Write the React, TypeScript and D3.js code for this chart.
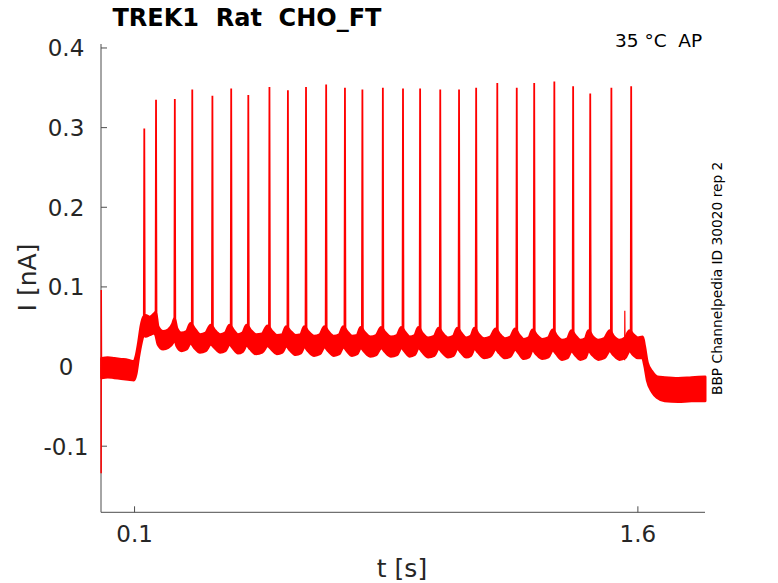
import React from 'react';
import * as d3 from 'd3';

// spike times (s) and peak currents (nA)
const spikeTimes = [
  0.129, 0.164, 0.22, 0.272, 0.332, 0.388, 0.439, 0.502, 0.557, 0.611, 0.671, 0.727, 0.779, 0.84,
  0.9, 0.951, 1.011, 1.067, 1.118, 1.181, 1.239, 1.291, 1.351, 1.407, 1.458, 1.521, 1.58,
];
const spikePeaks = [
  0.299, 0.335, 0.336, 0.348, 0.34, 0.349, 0.341, 0.351, 0.347, 0.351, 0.354, 0.35, 0.348, 0.35,
  0.349, 0.349, 0.348, 0.348, 0.35, 0.356, 0.35, 0.356, 0.358, 0.352, 0.343, 0.35, 0.352,
];

// noisy baseline band: time (s), lower and upper edge (nA)
const bandT = [
  0.002, 0.02, 0.04, 0.06, 0.08, 0.098, 0.104, 0.112, 0.12, 0.127,
  0.133, 0.145, 0.158, 0.163,
  0.17, 0.185, 0.2, 0.214, 0.219,
  0.226, 0.24, 0.255, 0.267,
  0.278, 0.295, 0.312, 0.327,
  0.338, 0.355, 0.37, 0.383,
  0.394, 0.408, 0.422, 0.434,
  0.445, 0.462, 0.48, 0.496,
  0.508, 0.524, 0.54, 0.552,
  0.563, 0.58, 0.595, 0.606,
  0.617, 0.635, 0.652, 0.666,
  0.677, 0.694, 0.71, 0.722,
  0.733, 0.748, 0.763, 0.774,
  0.785, 0.803, 0.82, 0.835,
  0.846, 0.864, 0.882, 0.895,
  0.906, 0.92, 0.935, 0.946,
  0.957, 0.975, 0.993, 1.006,
  1.017, 1.034, 1.05, 1.062,
  1.073, 1.088, 1.102, 1.113,
  1.124, 1.142, 1.16, 1.176,
  1.187, 1.204, 1.22, 1.234,
  1.245, 1.26, 1.275, 1.286,
  1.297, 1.315, 1.333, 1.346,
  1.357, 1.374, 1.39, 1.402,
  1.413, 1.428, 1.443, 1.453,
  1.464, 1.482, 1.5, 1.516,
  1.527, 1.545, 1.562, 1.575,
  1.586, 1.6, 1.614, 1.62, 1.628, 1.643, 1.658, 1.68, 1.72, 1.76, 1.8,
];
const bandLo = [
  -0.014, -0.013, -0.014, -0.015, -0.016, -0.017, -0.01, 0.012, 0.03, 0.04,
  0.038, 0.04, 0.042, 0.04,
  0.028, 0.022, 0.024, 0.03, 0.035,
  0.026, 0.02, 0.022, 0.03,
  0.024, 0.018, 0.02, 0.028,
  0.024, 0.018, 0.02, 0.028,
  0.023, 0.017, 0.019, 0.027,
  0.022, 0.016, 0.018, 0.026,
  0.022, 0.016, 0.018, 0.026,
  0.021, 0.015, 0.017, 0.025,
  0.02, 0.014, 0.016, 0.025,
  0.02, 0.014, 0.016, 0.025,
  0.02, 0.014, 0.016, 0.024,
  0.019, 0.013, 0.015, 0.024,
  0.019, 0.013, 0.015, 0.024,
  0.019, 0.013, 0.015, 0.024,
  0.019, 0.012, 0.014, 0.023,
  0.018, 0.012, 0.014, 0.023,
  0.018, 0.012, 0.014, 0.023,
  0.018, 0.011, 0.013, 0.022,
  0.017, 0.011, 0.013, 0.022,
  0.017, 0.01, 0.012, 0.021,
  0.016, 0.01, 0.012, 0.021,
  0.016, 0.009, 0.011, 0.02,
  0.015, 0.009, 0.011, 0.02,
  0.015, 0.009, 0.011, 0.02,
  0.015, 0.009, 0.011, 0.02,
  0.015, 0.011, 0.011, 0.002, -0.017, -0.032, -0.039, -0.043, -0.044, -0.043, -0.043,
];
const bandHi = [
  0.01, 0.011, 0.01, 0.009, 0.008, 0.006, 0.012, 0.03, 0.052, 0.062,
  0.064, 0.062, 0.066, 0.068,
  0.05, 0.044, 0.046, 0.054, 0.06,
  0.048, 0.042, 0.044, 0.054,
  0.048, 0.04, 0.042, 0.052,
  0.046, 0.04, 0.042, 0.052,
  0.046, 0.04, 0.042, 0.052,
  0.046, 0.04, 0.041, 0.051,
  0.045, 0.039, 0.04, 0.05,
  0.045, 0.039, 0.04, 0.05,
  0.044, 0.038, 0.04, 0.05,
  0.044, 0.038, 0.04, 0.05,
  0.044, 0.038, 0.039, 0.049,
  0.043, 0.037, 0.039, 0.049,
  0.043, 0.037, 0.039, 0.049,
  0.043, 0.037, 0.039, 0.049,
  0.042, 0.036, 0.038, 0.048,
  0.042, 0.036, 0.038, 0.048,
  0.042, 0.036, 0.038, 0.048,
  0.041, 0.035, 0.037, 0.047,
  0.041, 0.035, 0.037, 0.047,
  0.04, 0.034, 0.036, 0.046,
  0.04, 0.034, 0.036, 0.046,
  0.039, 0.033, 0.035, 0.045,
  0.039, 0.033, 0.035, 0.045,
  0.038, 0.033, 0.035, 0.045,
  0.038, 0.033, 0.036, 0.045,
  0.04, 0.036, 0.037, 0.025, 0.005, -0.007, -0.013, -0.014, -0.015, -0.014, -0.013,
];

// capacitive transient at t = 0 and the small glitch before the last spike
const onsetT = [0.0004, 0.0007, 0.0015, 0.003];
const onsetI = [-0.134, 0.096, -0.01, 0.0];
const glitchT = [1.5605, 1.561, 1.5617];
const glitchI = [0.008, 0.07, 0.03];

const xTicks = [0.1, 1.6];
const yTicks = [-0.1, 0, 0.1, 0.2, 0.3, 0.4];

const W = 778;
const H = 583;
const FONT = '"DejaVu Sans", sans-serif';
const RED = '#ff0000';
const AXIS = '#4d4d4d';
const TXT = '#262626';

export default function App() {
  const x = d3.scaleLinear().domain([0, 1.8]).range([101, 705]);
  const y = d3.scaleLinear().domain([-0.183, 0.405]).range([512.3, 44]);

  const band = d3
    .area<number>()
    .x((i) => x(bandT[i]))
    .y0((i) => y(bandLo[i]))
    .y1((i) => y(bandHi[i]))
    .curve(d3.curveMonotoneX);

  const line = d3
    .line<[number, number]>()
    .x((d) => x(d[0]))
    .y((d) => y(d[1]));

  const idx = d3.range(bandT.length);
  const [x0, x1] = x.range();
  const [yb, yt] = y.range();

  return (
    <svg
      width={W}
      height={H}
      style={{ position: 'absolute', left: 0, top: 0, background: '#fff' }}
      fontFamily={FONT}
    >
      {/* axes */}
      <line x1={x0} x2={x0} y1={yt} y2={yb} stroke={AXIS} strokeWidth={1} />
      <line x1={x0} x2={x1} y1={yb} y2={yb} stroke={AXIS} strokeWidth={1} />
      {yTicks.map((t) => (
        <g key={'y' + t}>
          <line x1={x0} x2={x0 + 6} y1={y(t)} y2={y(t)} stroke={AXIS} />
          <text x={66} y={y(t) + 8.4} fontSize={23} fill={TXT} textAnchor="middle">
            {t === 0 ? '0' : String(t)}
          </text>
        </g>
      ))}
      {xTicks.map((t) => (
        <g key={'x' + t}>
          <line x1={x(t)} x2={x(t)} y1={yb} y2={yb - 6} stroke={AXIS} />
          <text x={x(t)} y={541.5} fontSize={23} fill={TXT} textAnchor="middle">
            {String(t)}
          </text>
        </g>
      ))}

      {/* trace: the stroke stands in for the noise width of the raw recording */}
      <path d={band(idx) ?? ''} fill={RED} stroke={RED} strokeWidth={3} strokeLinejoin="round" />
      {spikeTimes.map((t, i) => (
        <path
          key={'s' + i}
          d={line([[t - 0.0015, 0.04], [t, spikePeaks[i]], [t + 0.0015, 0.04]]) ?? ''}
          fill={RED}
          stroke={RED}
          strokeWidth={1.8}
        />
      ))}
      <path
        d={line(onsetT.map((t, i) => [t, onsetI[i]] as [number, number])) ?? ''}
        fill="none"
        stroke={RED}
        strokeWidth={1.5}
      />
      <path
        d={line(glitchT.map((t, i) => [t, glitchI[i]] as [number, number])) ?? ''}
        fill="none"
        stroke={RED}
        strokeWidth={1.2}
      />

      {/* labels */}
      <text x={247} y={26} fontSize={24} fontWeight="bold" fill="#000" textAnchor="middle" style={{ whiteSpace: 'pre' }}>
        {'TREK1  Rat  CHO_FT'}
      </text>
      <text x={615} y={46.7} fontSize={18.5} fill="#000" style={{ whiteSpace: 'pre' }}>
        {'35 °C  AP'}
      </text>
      <text
        transform="translate(722,395) rotate(-90)"
        fontSize={13.75}
        fill="#000"
      >
        BBP Channelpedia ID 30020 rep 2
      </text>
      <text x={402} y={577} fontSize={25} fill={TXT} textAnchor="middle">
        t [s]
      </text>
      <text
        transform="translate(36,277.5) rotate(-90)"
        fontSize={25}
        fill={TXT}
        textAnchor="middle"
      >
        I [nA]
      </text>
    </svg>
  );
}
